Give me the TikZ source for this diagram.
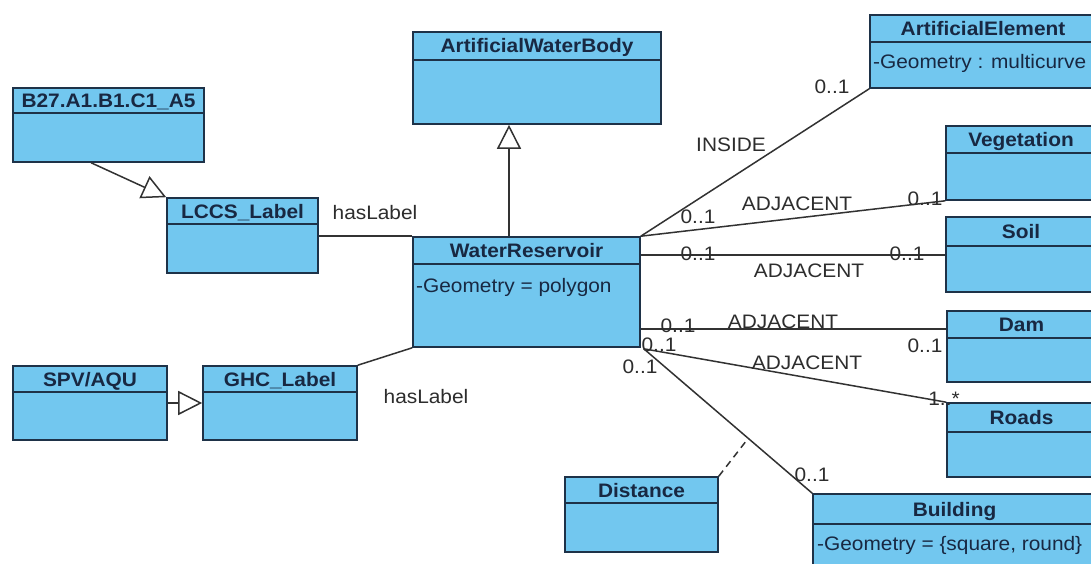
\documentclass[tikz,border=0pt]{standalone}
\usepackage{fontspec}
\setmainfont[FakeStretch=1.07]{Liberation Sans}
\usetikzlibrary{arrows.meta,fit,calc}
\definecolor{clsfill}{RGB}{114,199,239}
\definecolor{clsborder}{RGB}{30,50,72}
\definecolor{clstext}{RGB}{24,40,66}
\definecolor{linkcol}{RGB}{50,50,50}
\definecolor{labcol}{RGB}{45,45,45}
\tikzset{
  classbox/.style={draw=clsborder, fill=clsfill, line width=1.6pt, inner sep=0pt},
  classline/.style={draw=clsborder, line width=1.6pt},
  titletext/.style={font=\fontsize{19.5}{22}\selectfont\bfseries, text=clstext, inner sep=0pt, text height=14pt, text depth=0pt},
  attrtext/.style={font=\fontsize{19.5}{22}\selectfont, text=clstext, inner sep=0pt, text height=14pt, text depth=0pt, anchor=west},
  lab/.style={font=\fontsize{19.5}{22}\selectfont, text=labcol, inner sep=0pt, text height=14pt, text depth=0pt},
  link/.style={draw=linkcol, line width=1.5pt},
  gen/.style={link, -{Triangle[open, length=24pt, width=24pt, fill=white]}},
  assocdash/.style={link, dash pattern=on 7pt off 5pt}
}
% name, x1, y1, x2, yheader, y2, title
\newcommand\umlclass[7]{%
  \node[classbox, fit={(#2,#3) (#4,#6)}] (#1) {};
  \draw[classline] (#2,#5) -- (#4,#5);
  \node[titletext] (#1-t) at ({(#2+#4)/2},{(#3+#5)/2}) {#7};
}
\begin{document}
\begin{tikzpicture}[x=1pt,y=-1pt]
\useasboundingbox (0,0) rectangle (1091,564);
\clip (0,0) rectangle (1091,564);
\fill[white] (0,0) rectangle (1091,564);

% classes
\umlclass{b27}{13}{88}{204}{113}{162}{B27.A1.B1.C1\_A5}
\umlclass{lccs}{167}{198}{318}{224}{273}{LCCS\_Label}
\umlclass{spv}{13}{366}{167}{392}{440}{SPV/AQU}
\umlclass{ghc}{203}{366}{357}{392}{440}{GHC\_Label}
\umlclass{awb}{413}{32}{661}{60}{124}{ArtificialWaterBody}
\umlclass{wr}{413}{237}{640}{264}{347}{WaterReservoir}
\node[attrtext] (wr-a) at (416,285) {-Geometry = polygon};
\umlclass{ae}{870}{15}{1096}{42}{88}{ArtificialElement}
\node[attrtext] (ae-a) at (873,62) {-Geometry : multicurve};
\umlclass{veg}{946}{126}{1096}{153}{200}{Vegetation}
\umlclass{soil}{946}{217}{1096}{246}{292}{Soil}
\umlclass{dam}{947}{311}{1096}{338}{382}{Dam}
\umlclass{roads}{947}{403}{1096}{432}{477}{Roads}
\umlclass{bldg}{813}{494}{1096}{524}{600}{Building}
\node[attrtext] (bldg-a) at (817,543) {-Geometry = \{square, round\}};
\umlclass{dist}{565}{477}{718}{503}{552}{Distance}

% generalizations
\coordinate (b27out) at ($(b27.south west)!0.41!(b27.south east)$);
\draw[gen] (b27out) -- (lccs.north west);
\draw[gen] (spv.east |- 0,403) -- (ghc.west |- 0,403);
\draw[gen] (wr.north -| 509,0) -- (awb.south -| 509,0);

% hasLabel associations
\draw[link] (lccs.east |- wr.north west) -- (wr.north west);
\draw[link] (ghc.north east) -- (wr.south west);
\node[lab] (hl1) at (375,212) {hasLabel};
\node[lab] (hl2) at (426,396) {hasLabel};

% right associations
\draw[link] (wr.north east) -- (ae.south west);
\node[lab] (l1a) at (832,87) {0..1};
\node[lab] (l1b) at (731,145) {INSIDE};
\node[lab] (l1c) at (698,216) {0..1};

\draw[link] (wr.north east) -- (veg.south west);
\node[lab] (l2a) at (797,203) {ADJACENT};
\node[lab] (l2b) at (925,198) {0..1};

\coordinate (soilin) at ($(soil.north west)+(0,39)$);
\draw[link] (wr.east |- soilin) -- (soilin);
\node[lab] (l3a) at (698,253) {0..1};
\node[lab] (l3b) at (907,253) {0..1};
\node[lab] (l3c) at (809,270) {ADJACENT};

\coordinate (damin) at ($(dam.north west)+(0,19)$);
\draw[link] (wr.east |- damin) -- (damin);
\node[lab] (l4a) at (678,325) {0..1};
\node[lab] (l4b) at (783,321) {ADJACENT};
\node[lab] (l4c) at (925,345) {0..1};

\coordinate (wrse) at ($(wr.south east)+(3,1)$);
\draw[link] (wrse) -- (roads.north west);
\node[lab] (l5a) at (659,344) {0..1};
\node[lab] (l5b) at (807,362) {ADJACENT};
\node[lab] (l5c) at (944,398) {1..*};

\draw[link] (wrse) -- (bldg.north west);
\node[lab] (l6a) at (640,366) {0..1};
\node[lab] (l6b) at (812,474) {0..1};

\coordinate (distat) at ($(wrse)!0.62!(bldg.north west)$);
\draw[assocdash] (dist.north east) -- (distat);
\end{tikzpicture}
\end{document}
